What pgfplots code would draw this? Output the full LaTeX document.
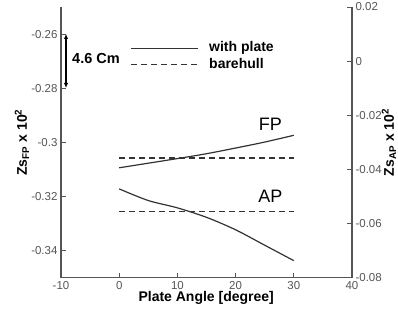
\documentclass[border=0pt]{standalone}
\usepackage{fontspec}
\setmainfont{Liberation Sans}
\usepackage{pgfplots}
\pgfplotsset{compat=1.18}
\usetikzlibrary{arrows.meta}
\definecolor{ax}{HTML}{555555}
\definecolor{ln}{HTML}{333333}
\pgfplotsset{
  common/.style={
    at={(61pt,34.3pt)}, anchor=south west, scale only axis,
    width=291pt, height=270.7pt,
    xmin=-10, xmax=40,
    axis line style={ax, line width=1.3pt, -},
    tick style={ax, line width=0.9pt},
    major tick length=5pt, tick align=inside,
    ticklabel style={font=\fontsize{11.5}{13}\selectfont, text=ax},
    scaled ticks=false,
    /pgf/number format/assume math mode=true,
    /pgf/number format/fixed, /pgf/number format/precision=2,
    label style={font=\fontsize{14}{16}\selectfont\bfseries, text=black},
  }
}
\begin{document}
\begin{tikzpicture}[x=1pt,y=1pt]
\useasboundingbox (0,0) rectangle (398,312);
\begin{axis}[common,
  ymin=-0.35, ymax=-0.25,
  axis x line*=bottom, axis y line*=left,
  xtick={-10,0,10,20,30,40},
  ytick={-0.34,-0.32,-0.30,-0.28,-0.26},
  xlabel={Plate Angle [degree]},
  xlabel style={at={(axis description cs:0.499,-0.076)}, anchor=center},
  ylabel={Zs\textsubscript{FP} x 10\textsuperscript{2}},
  ylabel style={at={(axis description cs:-0.134,0.5)}, anchor=center},
]
\addplot[ln, line width=1.2pt, smooth] coordinates {
 (0,-0.3094) (5,-0.3077) (10,-0.3060) (15,-0.3042) (20,-0.3021) (25,-0.2999) (30,-0.2974)};
\addplot[ln, line width=1.1pt, dash pattern=on 6pt off 4pt] coordinates {
 (0,-0.3058) (30,-0.3058)};
\end{axis}
\begin{axis}[common,
  ymin=-0.08, ymax=0.02,
  axis x line=none, axis y line*=right,
  ytick={-0.08,-0.06,-0.04,-0.02,0,0.02},
  ylabel={Zs\textsubscript{AP} x 10\textsuperscript{2}},
  ylabel style={at={(axis description cs:1.127,0.5)}, anchor=center, rotate=0},
]
\addplot[ln, line width=1.2pt, smooth] coordinates {
 (0,-0.0472) (5,-0.0515) (10,-0.0542) (15,-0.0577) (20,-0.0623) (25,-0.0680) (30,-0.0737)};
\addplot[ln, line width=1.1pt, dash pattern=on 6pt off 4pt] coordinates {
 (0,-0.0554) (30,-0.0554)};
\end{axis}
% legend
\draw[ln, line width=1.3pt] (131,263.7) -- (198,263.7);
\draw[ln, line width=1.2pt, dash pattern=on 6pt off 4pt] (131,247.5) -- (198,247.5);
\node[anchor=west, font=\fontsize{14}{16}\selectfont\bfseries, inner sep=0pt] at (209,263.7) {with plate};
\node[anchor=west, font=\fontsize{14}{16}\selectfont\bfseries, inner sep=0pt] at (209,248) {barehull};
% 4.6 Cm annotation
\draw[black, line width=1.4pt, {Latex[length=5pt,width=4.5pt]}-{Latex[length=5pt,width=4.5pt]}] (66,278) -- (66,224);
\node[anchor=west, font=\fontsize{14.5}{16}\selectfont\bfseries, inner sep=0pt] at (72,253.7) {4.6 Cm};
% curve labels
\node[font=\fontsize{18}{20}\selectfont, inner sep=0pt] at (270.3,187.7) {FP};
\node[font=\fontsize{18}{20}\selectfont, inner sep=0pt] at (270.3,116) {AP};
\end{tikzpicture}
\end{document}
